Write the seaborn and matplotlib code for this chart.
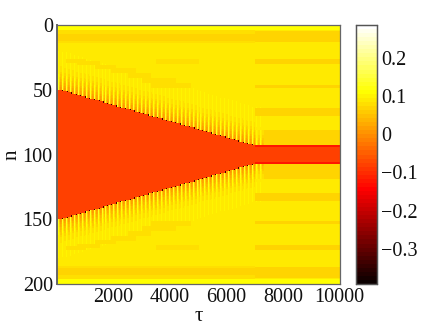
import matplotlib
matplotlib.use("Agg")
import matplotlib.pyplot as plt
import numpy as np
import seaborn as sns

# tau at which the edge of the red region moves one row further in
step_tau = [160, 320, 480, 640, 800, 960, 1120, 1280, 1440, 1600, 1760,
            1920, 2080, 2240, 2400, 2560, 2720, 2880, 3040, 3200, 3360,
            3520, 3680, 3840, 4000, 4160, 4320, 4480, 4640, 4800, 4960,
            5120, 5280, 5440, 5600, 5760, 5920, 6080, 6240, 6400, 6560,
            6720, 6880]
front_start = 50

red_value = -0.08
band_edge_value = -0.12
front_dot_value = -0.33
base_value = 0.095
top_value = 0.11
gold_value = 0.07

# rows above the front (two rows each), over one spike period
fringe_values = [
    [0.02, 0.135, 0.05, 0.01],
    [0.03, 0.13, 0.06, 0.02],
    [0.04, 0.125, 0.07, 0.03],
    [0.05, 0.12, 0.075, 0.04],
    [0.055, 0.115, 0.08, 0.05],
    [0.06, 0.11, 0.085, 0.06],
    [0.07, 0.105, 0.09, 0.07],
    [0.075, 0.10, 0.09, 0.075],
    [0.08, 0.10, 0.09, 0.08],
]
far_fringe_values = [0.085, 0.098, 0.09, 0.095]

# soft patches for tau < 7000 (upper half, lower half is the mirror)
patch_tau_start = [0, 0, 300, 700, 1300, 1900, 2500, 3000, 3300, 3500, 3900]
patch_tau_end = [7000, 7000, 1000, 1500, 2100, 2800, 3300, 4200, 4700, 5000, 4500]
patch_n_start = [4, 7, 26, 28, 31, 33, 37, 41, 45, 26, 27]
patch_n_end = [14, 12, 29, 31, 34, 37, 41, 45, 49, 30, 29]
patch_values = [0.082, 0.07, 0.08, 0.078, 0.08, 0.08, 0.08, 0.078, 0.075, 0.08, 0.075]

# gold stripes for tau > 7000
stripe_n_start = [5, 26, 46, 64, 81]
stripe_n_end = [13, 30, 49, 70, 93]

tau_step = 35
n_cols = 286
n_rows = 200
split_tau = 7000
fade_tau = 7300

x_ticks = [2000, 4000, 6000, 8000, 10000]
y_ticks = [0, 50, 100, 150, 200]
cbar_ticks = [-0.3, -0.2, -0.1, 0, 0.1, 0.2]
cbar_labels = ["\u22120.3", "\u22120.2", "\u22120.1", "0", "0.1", "0.2"]
vmin, vmax = -0.392, 0.286


def build_matrix():
    half = np.full((n_rows // 2, n_cols), base_value)
    half[:4, :] = top_value
    taus = np.arange(n_cols) * tau_step

    for t0, t1, n0, n1, v in zip(patch_tau_start, patch_tau_end, patch_n_start,
                                 patch_n_end, patch_values):
        half[n0:n1, (taus >= t0) & (taus < t1)] = v

    for j, t in enumerate(taus):
        passed = [s for s in step_tau if s <= t]
        front = front_start + len(passed)
        phase = j % 4
        if t >= split_tau:
            half[4:front, j] = base_value
            for n0, n1 in zip(stripe_n_start, stripe_n_end):
                half[n0:n1, j] = gold_value
            if t < fade_tau:
                # last faint spikes past the end of the shrinking
                for d, row in enumerate(fringe_values[3:]):
                    half[front - 2 - 2 * d:front - 2 * d, j] = row[phase]
                far = half[front - 30:front - 14, j]
                far[far == base_value] = far_fringe_values[phase]
            half[front:, j] = red_value
            half[front, j] = band_edge_value
            continue
        last = passed[-1] if passed else 0
        half[front:, j] = red_value
        far = half[front - 30:front - 18, j]
        far[far == base_value] = far_fringe_values[phase]
        for d, row in enumerate(fringe_values):
            half[front - 2 - 2 * d:front - 2 * d, j] = row[phase]
        if t - last < tau_step:
            half[front - 1, j] = front_dot_value
    return np.vstack([half, half[::-1]])


sns.set_theme(style="white")
plt.rcParams["font.family"] = ["Liberation Serif", "DejaVu Sans"]

fig = plt.figure(figsize=(4.36, 3.27), dpi=100)
ax = fig.add_axes([57 / 436, 1 - 284 / 327, 283 / 436, 259 / 327])
cax = fig.add_axes([356 / 436, 1 - 284 / 327, 21 / 436, 259 / 327])

sns.heatmap(build_matrix(), ax=ax, cbar_ax=cax, cmap=plt.get_cmap("hot", 64),
            vmin=vmin, vmax=vmax, xticklabels=False, yticklabels=False)

ax.set_xticks([t / tau_step for t in x_ticks])
ax.set_xticklabels([str(t) for t in x_ticks], rotation=0)
ax.set_yticks(y_ticks)
ax.set_yticklabels([str(n) for n in y_ticks], rotation=0)
ax.tick_params(direction="in", length=2.5, width=0.6, top=True, right=True,
               bottom=True, left=True, labelsize=14.5, pad=3, color="#444444",
               labelcolor="#111111")
for spine in ax.spines.values():
    spine.set_visible(True)
    spine.set_color("#666666")
    spine.set_linewidth(0.9)
ax.spines["left"].set_linewidth(1.4)
ax.set_xlabel("\u03c4", fontsize=15, color="#111111")
ax.set_ylabel("n", fontsize=15, color="#111111")
ax.xaxis.set_label_coords(0.5, -0.09)
ax.yaxis.set_label_coords(-0.125, 0.5)

cax.set_yticks(cbar_ticks)
cax.set_yticklabels(cbar_labels)
cax.tick_params(direction="in", length=2.5, width=0.6, right=True, left=True,
                labelsize=14.5, pad=3, color="#444444", labelcolor="#111111")
for spine in cax.spines.values():
    spine.set_visible(True)
    spine.set_color("#555555")
    spine.set_linewidth(0.9)

fig.savefig("out.png", dpi=100)
